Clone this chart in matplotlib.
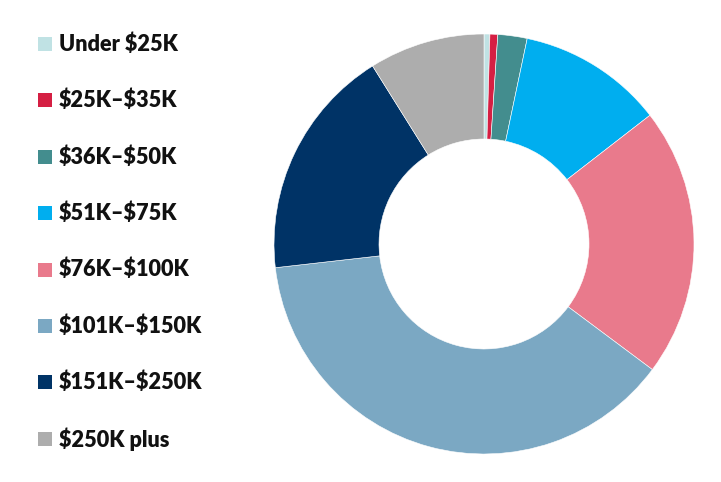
import matplotlib
matplotlib.use("Agg")
import matplotlib.pyplot as plt
from matplotlib.patches import Rectangle

LABELS = [
    "Under $25K",
    "$25K\u2013$35K",
    "$36K\u2013$50K",
    "$51K\u2013$75K",
    "$76K\u2013$100K",
    "$101K\u2013$150K",
    "$151K\u2013$250K",
    "$250K plus",
]
SHARES = [0.45, 0.6, 2.25, 11.2, 20.7, 38.0, 17.9, 8.9]
COLORS = [
    "#C0E2E4",
    "#D51F43",
    "#438D8E",
    "#00AEEF",
    "#E97A8C",
    "#7BA8C3",
    "#003366",
    "#ADADAD",
]

W, H = 721, 482
fig = plt.figure(figsize=(W / 100, H / 100), dpi=100)

# donut: centre (484, 244) px, outer radius 210 px
cx, cy, r = 484, 244, 210
ax = fig.add_axes([(cx - r) / W, (H - cy - r) / H, 2 * r / W, 2 * r / H])
ax.pie(
    SHARES,
    colors=COLORS,
    startangle=90,
    counterclock=False,
    radius=1.0,
    wedgeprops=dict(width=0.5, edgecolor="white", linewidth=0.4),
)
ax.set_xlim(-1, 1)
ax.set_ylim(-1, 1)
ax.set_aspect("equal")
ax.axis("off")

# legend column on the left
top_y, pitch = 44, 56.4
box = 14
for i, (label, color) in enumerate(zip(LABELS, COLORS)):
    yc = top_y + i * pitch
    fig.patches.append(Rectangle(
        (38 / W, (H - yc - box / 2) / H), box / W, box / H,
        transform=fig.transFigure, facecolor=color, edgecolor="none",
    ))
    fig.text(59 / W, (H - yc) / H, label, fontsize=15.6, fontweight="heavy",
             family=["Lato", "DejaVu Sans"], va="center", ha="left",
             color="#111111", parse_math=False)

fig.savefig("out.png", dpi=100, facecolor="white")
